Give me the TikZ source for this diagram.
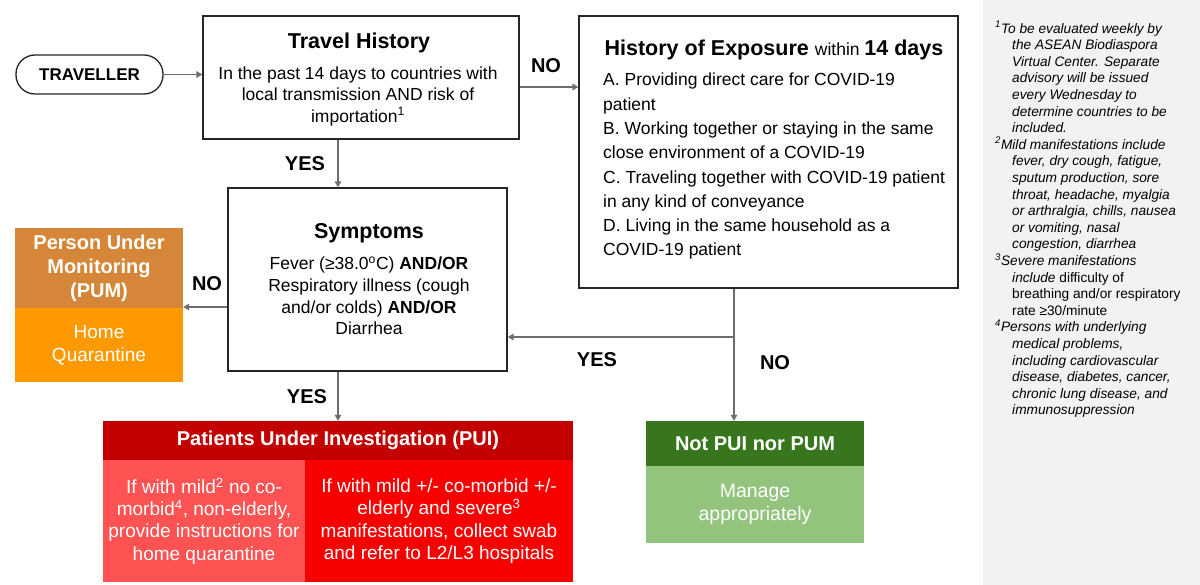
\documentclass[tikz,border=0pt]{standalone}
\usepackage{fontspec}
\setmainfont{Liberation Sans}
\usetikzlibrary{arrows.meta}
\definecolor{connc}{HTML}{6E6E6E}
\definecolor{panelc}{HTML}{F2F2F2}
\definecolor{pumtopc}{HTML}{D58638}
\definecolor{pumbotc}{HTML}{FF9900}
\definecolor{puihc}{HTML}{C20000}
\definecolor{puilc}{HTML}{FF5252}
\definecolor{puirc}{HTML}{F80000}
\definecolor{nphc}{HTML}{38761D}
\definecolor{npbc}{HTML}{93C47D}
\newcommand\fsz[2]{\fontsize{#1}{#2}\selectfont}
\begin{document}
\begin{tikzpicture}[x=1pt,y=-1pt,
  box/.style={draw=black!85, line width=1.3pt, inner sep=0pt},
  fillbox/.style={fill=#1, inner sep=0pt, text=white, align=center},
  conn/.style={draw=connc, line width=1.8pt, -{Triangle[length=6pt,width=6.5pt]}},
  title/.style={font={\fsz{21.5}{25}\bfseries}, inner sep=0pt},
  body/.style={align=center, inner sep=0pt},
  lbl/.style={font={\fsz{20}{24}\bfseries}, inner sep=0pt}]
\useasboundingbox (0,0) rectangle (1200,585);
\fill[white] (0,0) rectangle (1200,585);
\node[fill=panelc, minimum width=217pt, minimum height=585pt, inner sep=0pt] (panel) at (1091.5,292.5) {};

% TRAVELLER
\node[draw=black!85, line width=1.3pt, rounded corners=19pt, minimum width=147pt, minimum height=39pt, inner sep=0pt, font={\fsz{17}{20}\bfseries}] (trav) at (89.5,74.5) {TRAVELLER};

% Travel History
\node[box, minimum width=316pt, minimum height=123pt] (travel) at (361,77.5) {};
\node[title] (traveltitle) at (359,43) {Travel History};
\node[body, font={\fsz{17.5}{21.5}}] (travelbody) at (358,96) {In the past 14 days to countries with\\local transmission AND risk of\\importation\textsuperscript{1}};

% Exposure
\node[box, minimum width=379pt, minimum height=272pt] (expo) at (768.5,152) {};
\node[inner sep=0pt] (expotitle) at (774,50) {\fsz{21.5}{25}\bfseries History of Exposure \fsz{17.5}{21}\mdseries within \fsz{21.5}{25}\bfseries 14 days};
\node[anchor=north west, align=left, inner sep=0pt, font={\fsz{17.5}{24.3}}] (expolist) at (603,73) {A. Providing direct care for COVID-19\\patient\\B. Working together or staying in the same\\close environment of a COVID-19\\C. Traveling together with COVID-19 patient\\in any kind of conveyance\\D. Living in the same household as a\\COVID-19 patient};

% Symptoms
\node[box, minimum width=279pt, minimum height=183pt] (sym) at (367.5,279.5) {};
\node[title] (symtitle) at (369,233) {Symptoms};
\node[body, font={\fsz{17.5}{21.7}}] (symbody) at (369,296) {Fever (≥38.0\textsuperscript{o}C) \textbf{AND/OR}\\Respiratory illness (cough\\and/or colds) \textbf{AND/OR}\\Diarrhea};

% PUM
\node[fillbox=pumtopc, minimum width=168pt, minimum height=80pt, font={\fsz{20}{24}\bfseries}] (pumtop) at (99,268) {Person Under\\Monitoring\\(PUM)};
\node[fillbox=pumbotc, minimum width=168pt, minimum height=74pt, font={\fsz{19}{23}}] (pumbot) at (99,345) {Home\\Quarantine};

% PUI
\node[fillbox=puihc, minimum width=470pt, minimum height=39pt, font={\fsz{20}{24}\bfseries}] (puih) at (338,440.5) {Patients Under Investigation (PUI)};
\node[fillbox=puilc, minimum width=202pt, minimum height=122pt, font={\fsz{19}{22.3}}] (puil) at (204,521) {If with mild\textsuperscript{2} no co-\\morbid\textsuperscript{4}, non-elderly,\\provide instructions for\\home quarantine};
\node[fillbox=puirc, minimum width=268pt, minimum height=122pt, font={\fsz{19}{22.3}}] (puir) at (439,521) {If with mild +/- co-morbid +/-\\elderly and severe\textsuperscript{3}\\manifestations, collect swab\\and refer to L2/L3 hospitals};

% Not PUI nor PUM
\node[fillbox=nphc, minimum width=218pt, minimum height=45pt, font={\fsz{20}{24}\bfseries}] (nph) at (755,443.5) {Not PUI nor PUM};
\node[fillbox=npbc, minimum width=218pt, minimum height=77pt, font={\fsz{19.5}{23}}] (npb) at (755,504.5) {Manage\\appropriately};

% helper coordinates
\coordinate (ax) at (338,0);
\coordinate (ay) at (0,87);
\coordinate (bx) at (734,0);
\coordinate (by) at (0,337);
\coordinate (cy) at (0,307);

% connectors
\draw[conn] (trav.east) -- (travel.west |- trav.east);
\draw[conn] (travel.east |- ay) -- (expo.west |- ay);
\draw[conn] (travel.south -| ax) -- (sym.north -| ax);
\draw[conn] (sym.west |- cy) -- (pumtop.east |- cy);
\draw[conn] (sym.south -| ax) -- (puih.north -| ax);
\draw[conn] (expo.south -| bx) -- (nph.north -| bx);
\draw[conn] (bx |- by) -- (sym.east |- by);

% labels
\node[lbl] (no1) at (546,66) {NO};
\node[lbl] (yes1) at (305,164) {YES};
\node[lbl] (no2) at (207,284) {NO};
\node[lbl] (yes2) at (307,397) {YES};
\node[lbl] (yes3) at (597,360) {YES};
\node[lbl] (no3) at (775,363) {NO};

% footnotes
\node[anchor=north west, align=left, inner sep=0pt, font={\fsz{13.7}{16.6}\itshape}] (notes) at (995,21) {%
\textsuperscript{1}To be evaluated weekly by\\
\hspace*{17pt}the ASEAN Biodiaspora\\
\hspace*{17pt}Virtual Center. Separate\\
\hspace*{17pt}advisory will be issued\\
\hspace*{17pt}every Wednesday to\\
\hspace*{17pt}determine countries to be\\
\hspace*{17pt}included.\\
\textsuperscript{2}Mild manifestations include\\
\hspace*{17pt}fever, dry cough, fatigue,\\
\hspace*{17pt}sputum production, sore\\
\hspace*{17pt}throat, headache, myalgia\\
\hspace*{17pt}or arthralgia, chills, nausea\\
\hspace*{17pt}or vomiting, nasal\\
\hspace*{17pt}congestion, diarrhea\\
\textsuperscript{3}Severe manifestations\\
\hspace*{17pt}include {\upshape difficulty of}\\
\hspace*{17pt}{\upshape breathing and/or respiratory}\\
\hspace*{17pt}{\upshape rate ≥30/minute}\\
\textsuperscript{4}Persons with underlying\\
\hspace*{17pt}medical problems,\\
\hspace*{17pt}including cardiovascular\\
\hspace*{17pt}disease, diabetes, cancer,\\
\hspace*{17pt}chronic lung disease, and\\
\hspace*{17pt}immunosuppression};
\end{tikzpicture}
\end{document}
